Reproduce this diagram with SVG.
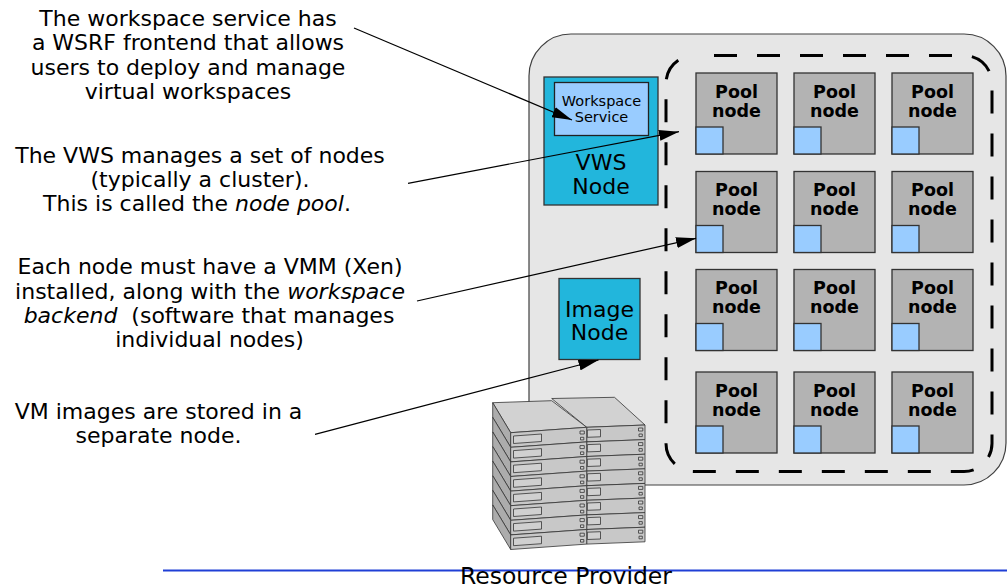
<svg xmlns="http://www.w3.org/2000/svg" width="1007" height="588" viewBox="0 0 1007 588">
<style>
text{font-family:"DejaVu Sans",Verdana,sans-serif;fill:#000}
.note{font-size:22px;text-anchor:middle}
.pool rect.b{fill:#b3b3b3;stroke:#333;stroke-width:1.3}
.pool rect.s{fill:#99ccff;stroke:#333;stroke-width:1.3}
.pool text{font-size:17.5px;font-weight:bold;text-anchor:middle}
.cyan{fill:#22b6dc;stroke:#333;stroke-width:1.3}
.big{font-size:22px;text-anchor:middle}
.conn line{stroke:#000;stroke-width:1.2;marker-end:url(#ah)}
.srv{stroke:#333;stroke-width:0.8;stroke-linejoin:round}
.fr{fill:#c8c8c8}
.tp{fill:#d2d2d2}
.sd{fill:#acacac}
.sl{fill:#d0d0d0}
</style>
<defs>
<marker id="ah" markerWidth="20" markerHeight="11" refX="20" refY="5.5" orient="auto" markerUnits="userSpaceOnUse">
<path d="M0,0 L20,5.5 L0,11 z" fill="#000"/>
</marker>
<g id="srvL" class="srv">
<path class="sd" d="M492.7,402.7 L510.7,432.7 L510.7,447.3 L492.7,417.3 Z"/>
<path class="fr" d="M510.7,432.7 L586.7,427.3 L586.7,441.9 L510.7,447.3 Z"/>
<path class="sl" d="M513.5,436 L541.5,434 L541.5,441.5 L513.5,443.5 Z"/>
<rect class="sl" x="580" y="431" width="4.3" height="3"/>
<rect class="sl" x="580.5" y="437.3" width="3.3" height="2.6"/>
</g>
<g id="srvR" class="srv">
<path class="fr" d="M586.7,427.3 L645,425 L645,439.6 L586.7,441.9 Z"/>
<path class="sl" d="M587.3,430 L600.5,429.5 L600.5,436.8 L587.3,437.3 Z"/>
<rect class="sl" x="638.5" y="428" width="4.3" height="3"/>
<rect class="sl" x="639" y="434" width="3.3" height="2.6"/>
</g>
</defs>

<g id="resource-provider">
<rect x="529" y="34" width="477" height="451" rx="42" ry="42" fill="#e6e6e6" stroke="#404040" stroke-width="1.2"/>
</g>

<g id="node-pool">
<rect x="666" y="55.5" width="326" height="416" rx="28" ry="28" fill="none" stroke="#000" stroke-width="3" stroke-dasharray="23 20" stroke-dashoffset="23"/>
</g>

<g id="vws-node">
<rect class="cyan" x="544" y="77" width="114" height="128"/>
<rect x="554.5" y="82.5" width="94" height="53" fill="#99ccff" stroke="#222" stroke-width="1.3"/>
<text x="601.5" y="106" font-size="14.5" text-anchor="middle">Workspace</text>
<text x="601.5" y="121.5" font-size="14.5" text-anchor="middle">Service</text>
<text class="big" x="601" y="170">VWS</text>
<text class="big" x="601" y="194">Node</text>
</g>

<g id="image-node">
<rect class="cyan" x="559" y="278.5" width="81" height="81"/>
<text class="big" x="599.5" y="316.5">Image</text>
<text class="big" x="599.5" y="340">Node</text>
</g>

<g id="pool-r1c1" class="pool"><rect class="b" x="696" y="73" width="81" height="81"/><rect class="s" x="696" y="127" width="27" height="27"/><text x="736.5" y="97.5">Pool</text><text x="736.5" y="116.5">node</text></g>
<g id="pool-r1c2" class="pool"><rect class="b" x="794" y="73" width="81" height="81"/><rect class="s" x="794" y="127" width="27" height="27"/><text x="834.5" y="97.5">Pool</text><text x="834.5" y="116.5">node</text></g>
<g id="pool-r1c3" class="pool"><rect class="b" x="892" y="73" width="81" height="81"/><rect class="s" x="892" y="127" width="27" height="27"/><text x="932.5" y="97.5">Pool</text><text x="932.5" y="116.5">node</text></g>

<g id="pool-r2c1" class="pool"><rect class="b" x="696" y="171.5" width="81" height="81"/><rect class="s" x="696" y="225.5" width="27" height="27"/><text x="736.5" y="196">Pool</text><text x="736.5" y="215">node</text></g>
<g id="pool-r2c2" class="pool"><rect class="b" x="794" y="171.5" width="81" height="81"/><rect class="s" x="794" y="225.5" width="27" height="27"/><text x="834.5" y="196">Pool</text><text x="834.5" y="215">node</text></g>
<g id="pool-r2c3" class="pool"><rect class="b" x="892" y="171.5" width="81" height="81"/><rect class="s" x="892" y="225.5" width="27" height="27"/><text x="932.5" y="196">Pool</text><text x="932.5" y="215">node</text></g>

<g id="pool-r3c1" class="pool"><rect class="b" x="696" y="269.5" width="81" height="81"/><rect class="s" x="696" y="323.5" width="27" height="27"/><text x="736.5" y="294">Pool</text><text x="736.5" y="313">node</text></g>
<g id="pool-r3c2" class="pool"><rect class="b" x="794" y="269.5" width="81" height="81"/><rect class="s" x="794" y="323.5" width="27" height="27"/><text x="834.5" y="294">Pool</text><text x="834.5" y="313">node</text></g>
<g id="pool-r3c3" class="pool"><rect class="b" x="892" y="269.5" width="81" height="81"/><rect class="s" x="892" y="323.5" width="27" height="27"/><text x="932.5" y="294">Pool</text><text x="932.5" y="313">node</text></g>

<g id="pool-r4c1" class="pool"><rect class="b" x="696" y="372" width="81" height="81"/><rect class="s" x="696" y="426" width="27" height="27"/><text x="736.5" y="396.5">Pool</text><text x="736.5" y="415.5">node</text></g>
<g id="pool-r4c2" class="pool"><rect class="b" x="794" y="372" width="81" height="81"/><rect class="s" x="794" y="426" width="27" height="27"/><text x="834.5" y="396.5">Pool</text><text x="834.5" y="415.5">node</text></g>
<g id="pool-r4c3" class="pool"><rect class="b" x="892" y="372" width="81" height="81"/><rect class="s" x="892" y="426" width="27" height="27"/><text x="932.5" y="396.5">Pool</text><text x="932.5" y="415.5">node</text></g>

<g id="server-stack">
<path class="srv tp" d="M551.7,398.5 L614.5,397.3 L645,425 L586.7,427.3 Z"/>
<use href="#srvR"/>
<use href="#srvR" transform="translate(0,14.6)"/>
<use href="#srvR" transform="translate(0,29.2)"/>
<use href="#srvR" transform="translate(0,43.8)"/>
<use href="#srvR" transform="translate(0,58.4)"/>
<use href="#srvR" transform="translate(0,73)"/>
<use href="#srvR" transform="translate(0,87.6)"/>
<use href="#srvR" transform="translate(0,102.2)"/>
<path class="srv tp" d="M492.7,402.7 L551.7,400.7 L586.7,427.3 L510.7,432.7 Z"/>
<use href="#srvL"/>
<use href="#srvL" transform="translate(0,14.6)"/>
<use href="#srvL" transform="translate(0,29.2)"/>
<use href="#srvL" transform="translate(0,43.8)"/>
<use href="#srvL" transform="translate(0,58.4)"/>
<use href="#srvL" transform="translate(0,73)"/>
<use href="#srvL" transform="translate(0,87.6)"/>
<use href="#srvL" transform="translate(0,102.2)"/>
</g>

<g id="note-wsrf">
<text class="note" x="188" y="25.7">The workspace service has</text>
<text class="note" x="188" y="50.2">a WSRF frontend that allows</text>
<text class="note" x="188" y="74.6">users to deploy and manage</text>
<text class="note" x="188" y="99">virtual workspaces</text>
</g>

<g id="note-pool">
<text class="note" x="200" y="163.3">The VWS manages a set of nodes</text>
<text class="note" x="200" y="187">(typically a cluster).</text>
<text class="note" x="197" y="211">This is called the <tspan font-style="italic">node pool</tspan>.</text>
</g>

<g id="note-vmm">
<text class="note" x="210" y="274">Each node must have a VMM (Xen)</text>
<text class="note" x="210" y="298.5">installed, along with the <tspan font-style="italic">workspace</tspan></text>
<text class="note" x="209" y="322.5" style="white-space:pre"><tspan font-style="italic">backend</tspan>  (software that manages</text>
<text class="note" x="209.5" y="346.5">individual nodes)</text>
</g>

<g id="note-images">
<text class="note" x="158.5" y="418.5">VM images are stored in a</text>
<text class="note" x="158.5" y="442.7">separate node.</text>
</g>

<g id="connectors" class="conn">
<line x1="354" y1="28" x2="572" y2="120"/>
<line x1="408" y1="183.3" x2="679" y2="131.7"/>
<line x1="417" y1="301" x2="696" y2="238.3"/>
<line x1="315" y1="434.3" x2="598.5" y2="360"/>
</g>

<g id="provider-label">
<line x1="163" y1="570.5" x2="1007" y2="570.5" stroke="#1f3fd6" stroke-width="2"/>
<text x="566" y="584" font-size="23.5" text-anchor="middle">Resource Provider</text>
</g>
</svg>
